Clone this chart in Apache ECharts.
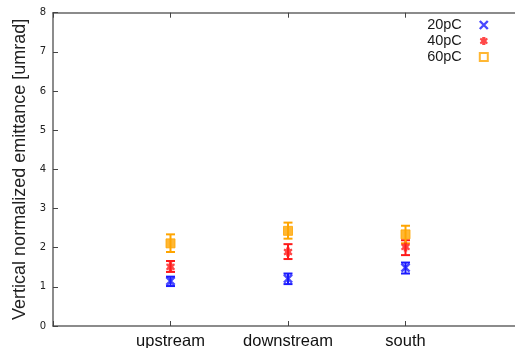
<!DOCTYPE html>
<html><head><meta charset="utf-8">
<script src="https://cdn.jsdelivr.net/npm/echarts@6/dist/echarts.min.js"></script>
<style>html,body{margin:0;padding:0;background:#fff;overflow:hidden}#c{width:515px;height:348px}</style>
</head><body><div id="c"></div>
<script>
const categories = ['upstream', 'downstream', 'south'];
const seriesNames = ['20pC', '40pC', '60pC'];
// value, low, high per category
const v20 = [1.15, 1.21, 1.49];
const lo20 = [1.02, 1.07, 1.34];
const hi20 = [1.26, 1.34, 1.62];
const v40 = [1.51, 1.89, 2.02];
const lo40 = [1.38, 1.71, 1.81];
const hi40 = [1.66, 2.09, 2.19];
const v60 = [2.11, 2.43, 2.34];
const lo60 = [1.89, 2.23, 2.11];
const hi60 = [2.34, 2.64, 2.56];
const yTicks = [0, 1, 2, 3, 4, 5, 6, 7, 8];
const xMax = 4;

const colors = ['#1a1aff', '#ff1a1a', '#ffa500'];
const FONT = 'Liberation Sans, Arial, sans-serif';
const crossPath = 'path://M0,0L10,10M10,0L0,10';
const starPath = 'path://M3,0L7,0L7,2L9,1L10,3L8,5L10,7L9,9L7,8L7,10L3,10L3,8L1,9L0,7L2,5L0,3L1,1L3,2Z';

const vals = [v20, v40, v60], los = [lo20, lo40, lo60], his = [hi20, hi40, hi60];
const series = [];
seriesNames.forEach((name, i) => {
  series.push({
    type: 'custom', name: name + '_err', silent: true, z: 2,
    data: categories.map((c, k) => [k + 1, los[i][k], his[i][k]]),
    renderItem: (params, api) => {
      const x = api.value(0);
      const p1 = api.coord([x, api.value(1)]);
      const p2 = api.coord([x, api.value(2)]);
      const w = 4.5;
      const st = { stroke: colors[i], lineWidth: 2 };
      return { type: 'group', children: [
        { type: 'line', shape: { x1: p1[0], y1: p1[1], x2: p2[0], y2: p2[1] }, style: st },
        { type: 'line', shape: { x1: p1[0] - w, y1: p1[1], x2: p1[0] + w, y2: p1[1] }, style: st },
        { type: 'line', shape: { x1: p2[0] - w, y1: p2[1], x2: p2[0] + w, y2: p2[1] }, style: st }
      ]};
    }
  });
});
series.push({
  type: 'scatter', name: '20pC', z: 3, symbol: crossPath, symbolSize: 8,
  itemStyle: { color: 'rgba(0,0,0,0)', borderColor: colors[0], borderWidth: 2.6 },
  data: categories.map((c, k) => [k + 1, v20[k]])
});
series.push({
  type: 'scatter', name: '40pC', z: 3, symbol: starPath, symbolSize: 9,
  itemStyle: { color: colors[1] },
  data: categories.map((c, k) => [k + 1, v40[k]])
});
series.push({
  type: 'scatter', name: '60pC', z: 3, symbol: 'rect', symbolSize: 9,
  itemStyle: { color: colors[2], borderColor: colors[2], borderWidth: 1 },
  data: categories.map((c, k) => [k + 1, v60[k]])
});

const chart = echarts.init(document.getElementById('c'), null, { renderer: 'canvas' });
const axisLine = { show: true, lineStyle: { color: '#666', width: 1.5 } };
chart.setOption({
  animation: false,
  backgroundColor: '#fff',
  grid: { left: 53, right: -8, top: 12.7, bottom: 22, containLabel: false, outerBoundsMode: 'none' },
  legend: {
    orient: 'vertical', right: 21, top: 12, align: 'right',
    itemWidth: 8, itemHeight: 8, itemGap: 0,
    textStyle: { fontFamily: FONT, fontSize: 14.5, color: '#1a1a1a', padding: [0, 13, 0, 0], lineHeight: 16 },
    data: [
      { name: '20pC', icon: crossPath, itemStyle: { color: 'rgba(0,0,0,0)', borderColor: colors[0], borderWidth: 2.4 } },
      { name: '40pC', icon: starPath, itemStyle: { color: colors[1] } },
      { name: '60pC', icon: 'rect', itemStyle: { color: '#fff', borderColor: colors[2], borderWidth: 2 } }
    ]
  },
  xAxis: [{
    type: 'value', min: 0, max: xMax, interval: 1, position: 'bottom',
    axisLine: axisLine,
    axisTick: { show: true, inside: true, length: 5, lineStyle: { color: '#444' } },
    splitLine: { show: false },
    axisLabel: { fontFamily: FONT, fontSize: 16.5, color: '#111', margin: 7,
      formatter: v => categories[v - 1] || '' }
  }, {
    type: 'value', min: 0, max: xMax, interval: 1, position: 'top',
    axisLine: axisLine,
    axisTick: { show: true, inside: true, length: 5, lineStyle: { color: '#444' } },
    splitLine: { show: false }, axisLabel: { show: false }
  }],
  yAxis: {
    type: 'value', min: yTicks[0], max: yTicks[yTicks.length - 1], interval: 1,
    axisLine: axisLine,
    axisTick: { show: true, inside: true, length: 5, lineStyle: { color: '#444' } },
    splitLine: { show: false },
    axisLabel: { fontFamily: 'DejaVu Sans', fontSize: 10, color: '#222', margin: 7 },
    name: 'Vertical normalized emittance [umrad]', nameLocation: 'middle', nameGap: 19,
    nameTextStyle: { fontFamily: FONT, fontSize: 18, color: '#222' }
  },
  series: series
});
</script></body></html>
